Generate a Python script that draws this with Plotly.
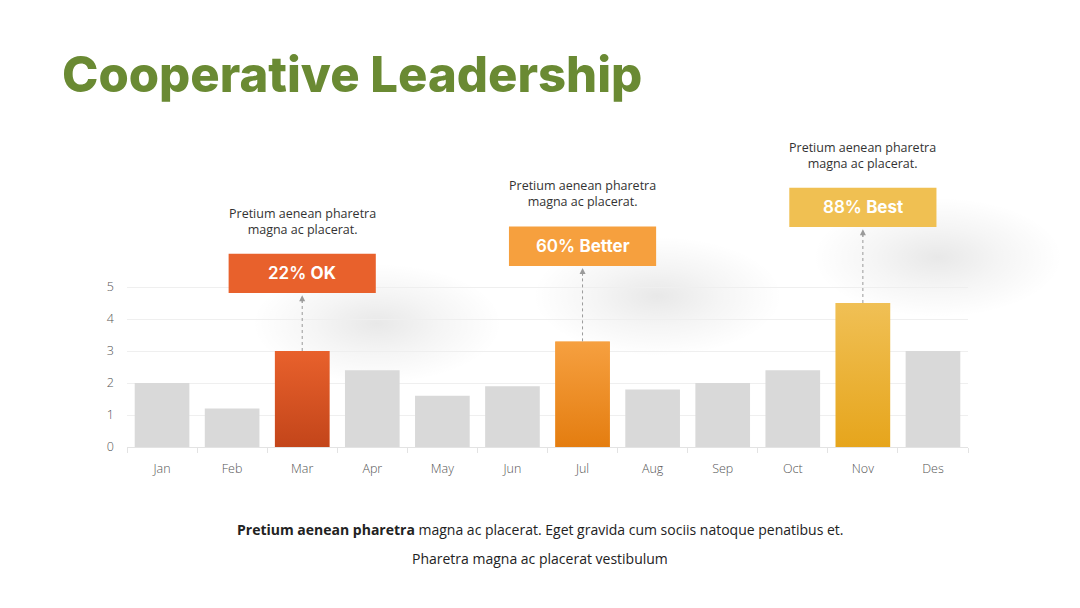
import base64
import plotly.graph_objects as go

# ---------------- data ----------------
months = ["Jan", "Feb", "Mar", "Apr", "May", "Jun", "Jul", "Aug", "Sep", "Oct", "Nov", "Des"]
values = [2.0, 1.2, 3.0, 2.4, 1.6, 1.9, 3.3, 1.8, 2.0, 2.4, 4.5, 3.0]
y_ticks = [0, 1, 2, 3, 4, 5]

callout_months = ["Mar", "Jul", "Nov"]
callout_pct = ["22%", "60%", "88%"]
callout_word = ["OK", "Better", "Best"]
callout_note = "Pretium aenean pharetra<br>magna ac placerat."

title = "Cooperative Leadership"
footer_bold = "Pretium aenean pharetra"
footer_rest = " magna ac placerat. Eget gravida cum sociis natoque penatibus et."
footer_line2 = "Pharetra magna ac placerat vestibulum"

# ---------------- style ----------------
W, H = 1080, 608
ML, MR, MT, MB = 127, 112, 127, 161
Y_MAX = 10
BAR_W = 0.78
GRAY = "#D9D9D9"
box_colors = ["#E8612C", "#F6A03E", "#F0C052"]
grad_top = ["#E8612C", "#F6A040", "#F0C055"]
grad_bot = ["#C3451A", "#E47D10", "#E6A51C"]
box_levels = [4.81, 5.66, 6.875]   # bottom of callout boxes (axis units)
BOX_HALF = 1.05
BOX_H = 1.23


def fx(px):
    return (px - ML) / (W - ML - MR)


def fy(py):
    return (H - MB - py) / (H - MT - MB)


def grad_uri(top, bot):
    svg = (
        '<svg xmlns="http://www.w3.org/2000/svg" width="10" height="100" '
        'viewBox="0 0 10 100" preserveAspectRatio="none">'
        '<defs><linearGradient id="g" x1="0" y1="0" x2="0" y2="1">'
        f'<stop offset="0" stop-color="{top}"/><stop offset="1" stop-color="{bot}"/>'
        '</linearGradient></defs><rect width="10" height="100" fill="url(#g)"/></svg>'
    )
    return "data:image/svg+xml;base64," + base64.b64encode(svg.encode()).decode()


def shadow_uri():
    svg = (
        '<svg xmlns="http://www.w3.org/2000/svg" width="200" height="100" '
        'viewBox="0 0 200 100" preserveAspectRatio="none">'
        '<defs><radialGradient id="r" cx="0.5" cy="0.5" r="0.5">'
        '<stop offset="0" stop-color="#000" stop-opacity="0.09"/>'
        '<stop offset="0.5" stop-color="#000" stop-opacity="0.04"/>'
        '<stop offset="1" stop-color="#000" stop-opacity="0"/>'
        '</radialGradient></defs><rect width="200" height="100" fill="url(#r)"/></svg>'
    )
    return "data:image/svg+xml;base64," + base64.b64encode(svg.encode()).decode()


bar_colors = []
for m in months:
    if m in callout_months:
        bar_colors.append(box_colors[callout_months.index(m)])
    else:
        bar_colors.append(GRAY)

fig = go.Figure(
    go.Bar(
        x=months,
        y=values,
        width=BAR_W,
        marker=dict(color=bar_colors, line=dict(width=0)),
        hoverinfo="skip",
    )
)

shapes, annotations, images = [], [], []
px_per_cat = (W - ML - MR) / len(months)
px_per_unit = (H - MT - MB) / Y_MAX
SW, SH = 250, 120

for i, m in enumerate(callout_months):
    idx = months.index(m)
    val = values[idx]
    lvl = box_levels[i]
    # soft shadow
    cxp = ML + (idx + 0.5) * px_per_cat + 75
    cyp = (H - MB) - (lvl + BOX_H / 2) * px_per_unit + 50
    images.append(dict(
        source=shadow_uri(), xref="paper", yref="paper",
        x=fx(cxp - SW / 2), y=fy(cyp - SH / 2),
        sizex=SW / (W - ML - MR), sizey=SH / (H - MT - MB),
        xanchor="left", yanchor="top", sizing="stretch", layer="below",
    ))
    # gradient bar
    images.append(dict(
        source=grad_uri(grad_top[i], grad_bot[i]), xref="x", yref="y",
        x=idx - BAR_W / 2, y=val, sizex=BAR_W, sizey=val,
        xanchor="left", yanchor="top", sizing="stretch", layer="above",
    ))
    # box
    shapes.append(dict(
        type="rect", xref="x", yref="y", x0=idx - BOX_HALF, x1=idx + BOX_HALF,
        y0=lvl, y1=lvl + BOX_H, fillcolor=box_colors[i], line=dict(width=0), layer="above",
    ))
    # dashed connector
    shapes.append(dict(
        type="line", xref="x", yref="y", x0=idx, x1=idx, y0=val, y1=lvl - 0.25,
        line=dict(color="#9A9A9A", width=1, dash="3px,3px"), layer="above",
    ))
    # arrow head
    annotations.append(dict(
        x=idx, y=lvl - 0.07, xref="x", yref="y", text="", showarrow=True,
        ax=0, ay=9, arrowhead=2, arrowsize=1.2, arrowwidth=1, arrowcolor="#9A9A9A",
    ))
    # box label
    annotations.append(dict(
        x=idx, y=lvl + BOX_H / 2, xref="x", yref="y", showarrow=False,
        text=f"{callout_pct[i]} <b>{callout_word[i]}</b>",
        font=dict(family="Inter", size=17, color="white", weight=600),
        xanchor="center", yanchor="middle",
    ))
    # note above box
    annotations.append(dict(
        x=idx, y=lvl + BOX_H + 1.02, xref="x", yref="y", showarrow=False,
        text=callout_note, align="center",
        font=dict(family="Open Sans", size=12.5, color="#333333"),
        xanchor="center", yanchor="middle",
    ))

annotations.append(dict(
    x=fx(60), y=fy(75), xref="paper", yref="paper", showarrow=False,
    text=title, xanchor="left", yanchor="middle",
    font=dict(family="Inter", size=49, color="#6A8A33", weight=800),
))
annotations.append(dict(
    x=fx(540), y=fy(529), xref="paper", yref="paper", showarrow=False,
    text=f"<b>{footer_bold}</b>{footer_rest}", xanchor="center", yanchor="middle",
    font=dict(family="Open Sans", size=14, color="#222222"),
))
annotations.append(dict(
    x=fx(540), y=fy(558), xref="paper", yref="paper", showarrow=False,
    text=footer_line2, xanchor="center", yanchor="middle",
    font=dict(family="Open Sans", size=14, color="#222222"),
))

fig.update_layout(
    width=W, height=H,
    margin=dict(l=ML, r=MR, t=MT, b=MB),
    paper_bgcolor="white", plot_bgcolor="white",
    showlegend=False,
    shapes=shapes, annotations=annotations, images=images,
    xaxis=dict(
        type="category", range=[-0.5, len(months) - 0.5],
        showline=True, linecolor="#E3E3E3", linewidth=1,
        ticks="outside", tickson="boundaries", ticklen=5, tickcolor="#E3E3E3",
        showgrid=False, zeroline=False,
        tickfont=dict(family="Open Sans", size=12.5, color="#555555", weight=300),
        ticklabelstandoff=10,
    ),
    yaxis=dict(
        range=[0, Y_MAX], tickvals=y_ticks, ticktext=[str(t) for t in y_ticks],
        showgrid=True, gridcolor="#EFEFEF", gridwidth=1,
        zeroline=False, showline=False, ticks="",
        tickfont=dict(family="Open Sans", size=12.5, color="#555555", weight=300),
        ticklabelstandoff=12,
    ),
    bargap=0.22,
)

fig.write_html("out.html")
